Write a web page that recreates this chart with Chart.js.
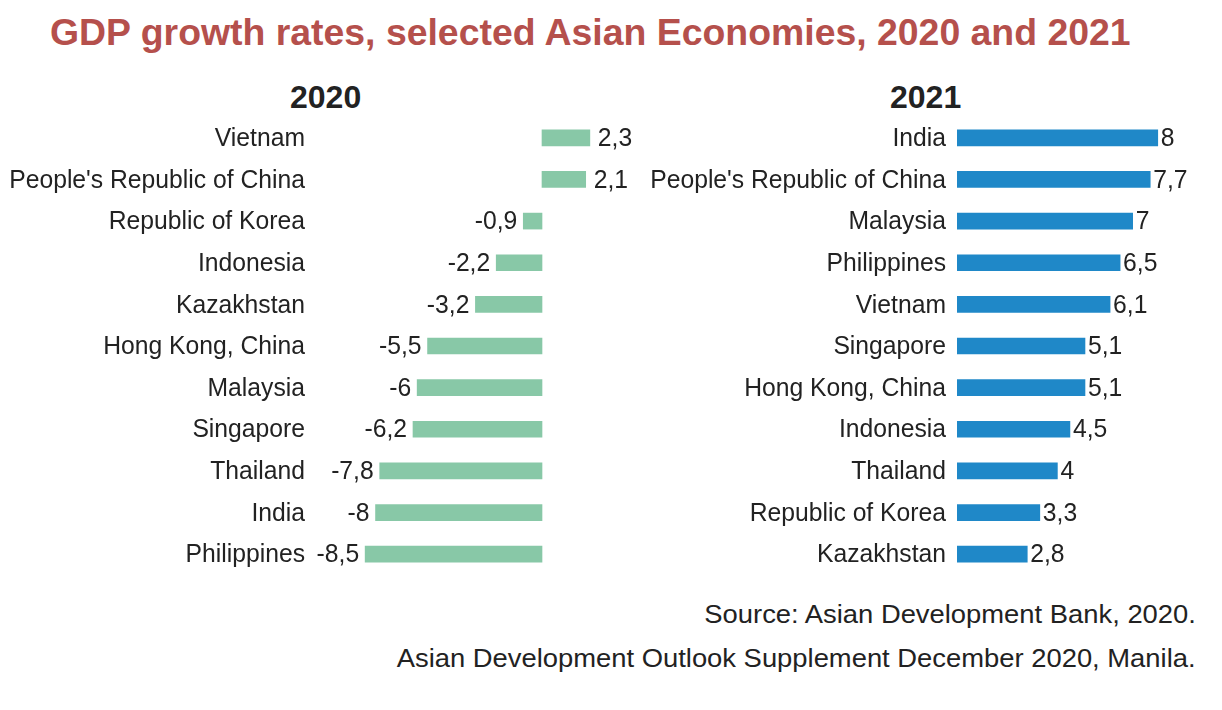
<!DOCTYPE html>
<html>
<head>
<meta charset="utf-8">
<script src="https://cdn.jsdelivr.net/npm/chart.js@4.4.0/dist/chart.umd.min.js"></script>
<style>
  body { margin: 0; background: #fff; width: 1222px; height: 710px; overflow: hidden; position: relative; }
  .title { position: absolute; left: 50px; top: 11px; font: bold 37.4px "Liberation Sans", Arial, sans-serif; color: #b5504c; white-space: nowrap; }
  .sub { position: absolute; top: 79px; font: bold 32px "Liberation Sans", Arial, sans-serif; color: #222; }
  .src { position: absolute; right: 26px; font: 25px "Liberation Sans", Arial, sans-serif; color: #222; white-space: nowrap;
         transform: scaleX(1.095); transform-origin: right center; }
  .box { position: absolute; top: 117px; height: 458px; }
</style>
</head>
<body>
<div class="title">GDP growth rates, selected Asian Economies, 2020 and 2021</div>
<div class="sub" style="left:290px">2020</div>
<div class="sub" style="left:890px">2021</div>
<div class="box" style="left:0; width:640px"><canvas id="chart2020"></canvas></div>
<div class="box" style="left:640px; width:582px"><canvas id="chart2021"></canvas></div>
<div class="src" style="top:600px">Source: Asian Development Bank, 2020.</div>
<div class="src" style="top:644px">Asian Development Outlook Supplement December 2020, Manila.</div>
<script>
// 2020 panel
const countries2020 = ["Vietnam", "People's Republic of China", "Republic of Korea", "Indonesia", "Kazakhstan",
  "Hong Kong, China", "Malaysia", "Singapore", "Thailand", "India", "Philippines"];
const growth2020 = [2.3, 2.1, -0.9, -2.2, -3.2, -5.5, -6, -6.2, -7.8, -8, -8.5];

// 2021 panel
const countries2021 = ["India", "People's Republic of China", "Malaysia", "Philippines", "Vietnam",
  "Singapore", "Hong Kong, China", "Indonesia", "Thailand", "Republic of Korea", "Kazakhstan"];
const growth2021 = [8, 7.7, 7, 6.5, 6.1, 5.1, 5.1, 4.5, 4, 3.3, 2.8];

const FONT = "26px 'Liberation Sans', Arial, sans-serif";
const SQUEEZE = 0.95; // the original labels are a bit narrower than Arial

function squeezedText(ctx, text, x, y, align) {
  ctx.save();
  ctx.textAlign = align;
  ctx.scale(SQUEEZE, 1);
  ctx.fillText(text, x / SQUEEZE, y);
  ctx.restore();
}

// category names on the left of the plot, and values at the end of each bar
const barText = {
  id: "barText",
  afterDatasetsDraw(chart, args, opts) {
    const ctx = chart.ctx;
    const yScale = chart.scales.y;
    const meta = chart.getDatasetMeta(0);
    const values = chart.data.datasets[0].data;
    ctx.save();
    ctx.font = FONT;
    ctx.fillStyle = "#222";
    ctx.textBaseline = "middle";
    chart.data.labels.forEach((name, i) => {
      squeezedText(ctx, name, chart.chartArea.left - opts.labelGap, yScale.getPixelForTick(i) + 1, "right");
    });
    meta.data.forEach((bar, i) => {
      const v = values[i];
      const text = String(v).replace(".", ",");
      if (v < 0) {
        squeezedText(ctx, text, bar.x - 6, bar.y + 1, "right");
      } else {
        squeezedText(ctx, text, bar.x + opts.valueGap, bar.y + 1, "left");
      }
    });
    ctx.restore();
  }
};

function makeChart(id, labels, values, color, xMin, xMax, axisWidth, labelGap, valueGap) {
  return new Chart(document.getElementById(id), {
    type: "bar",
    data: {
      labels: labels,
      datasets: [{ data: values, backgroundColor: color, barThickness: 16 }]
    },
    options: {
      indexAxis: "y",
      responsive: true,
      maintainAspectRatio: false,
      animation: false,
      layout: { padding: 0 },
      plugins: {
        legend: { display: false },
        tooltip: { enabled: false },
        barText: { labelGap: labelGap, valueGap: valueGap }
      },
      scales: {
        x: { display: false, min: xMin, max: xMax },
        y: {
          grid: { display: false },
          border: { display: false },
          ticks: { display: false },
          afterFit: (scale) => { scale.width = axisWidth; }
        }
      }
    },
    plugins: [barText]
  });
}

makeChart("chart2020", countries2020, growth2020, "#88c8a7", -11.15, 4.71, 310, 5, 8);
makeChart("chart2021", countries2021, growth2021, "#1f88c8", 0, 10.56, 317, 11, 3);
</script>
</body>
</html>
